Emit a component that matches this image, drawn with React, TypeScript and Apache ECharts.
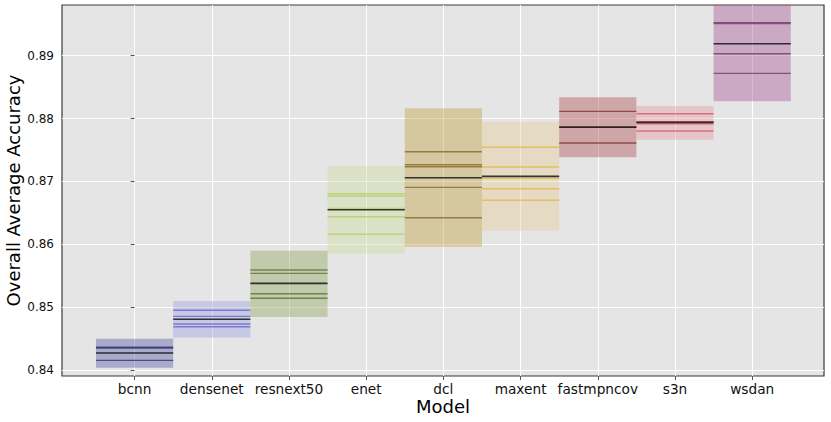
import React, { useEffect, useRef } from 'react';
import * as echarts from 'echarts';

const models = ['bcnn', 'densenet', 'resnext50', 'enet', 'dcl', 'maxent', 'fastmpncov', 's3n', 'wsdan'];
const lineColors = ['#393b79', '#6b6ecf', '#637939', '#b5cf6b', '#8c6d31', '#e7ba52', '#843c39', '#d6616b', '#7b4173'];
const fillColors = ['#5254a3', '#9c9ede', '#8ca252', '#cedb9c', '#bd9e39', '#e7cb94', '#ad494a', '#e7969c', '#a55194'];
const boxLow = [0.84037, 0.84514, 0.84843, 0.8585, 0.85962, 0.86216, 0.87384, 0.87664, 0.88275];
const boxHigh = [0.84498, 0.85098, 0.85898, 0.87245, 0.88163, 0.8795, 0.88338, 0.882, 0.90107];
const means = [0.8427, 0.84807, 0.85379, 0.8655, 0.87059, 0.87081, 0.87863, 0.8794, 0.89191];
const runs = [
  [0.84362, 0.8435, 0.84154],
  [0.8495, 0.84854, 0.84732, 0.84689],
  [0.85591, 0.85538, 0.85214, 0.85141],
  [0.86805, 0.86768, 0.86572, 0.86439, 0.86159],
  [0.87473, 0.87266, 0.87234, 0.86906, 0.86423],
  [0.87543, 0.87229, 0.87049, 0.86884, 0.867],
  [0.88115, 0.87866, 0.87611],
  [0.88078, 0.8795, 0.87918, 0.87802],
  [0.89527, 0.89513, 0.89032, 0.8872],
];
const yTicks = [0.84, 0.85, 0.86, 0.87, 0.88, 0.89];
const xTicks = [0, 1, 2, 3, 4, 5, 6, 7, 8];

export default function App() {
  const ref = useRef<HTMLDivElement>(null);
  useEffect(() => {
    if (!ref.current) return;
    const chart = echarts.init(ref.current, null, { renderer: 'svg' });
    const boxData = models.map((_, i) => [i, boxLow[i], boxHigh[i]]);
    const runData: number[][] = [];
    runs.forEach((arr, i) => arr.forEach((v) => runData.push([i, v])));
    const meanData = means.map((v, i) => [i, v]);

    const lineRender = (stroke: (i: number) => string, width: number, opacity: number) =>
      (params: any, api: any) => {
        const i = api.value(0);
        const v = api.value(1);
        const p1 = api.coord([i - 0.5, v]);
        const p2 = api.coord([i + 0.5, v]);
        return {
          type: 'line',
          shape: { x1: p1[0], y1: p1[1], x2: p2[0], y2: p2[1] },
          style: { stroke: stroke(i), lineWidth: width, opacity },
          silent: true,
        };
      };

    chart.setOption({
      animation: false,
      textStyle: { fontFamily: 'DejaVu Sans' },
      grid: {
        left: 62, right: 7, top: 5, bottom: 46,
        containLabel: false, outerBoundsMode: 'none',
        show: true, backgroundColor: '#e5e5e5', borderColor: '#3a3a3a', borderWidth: 1.2,
      },
      xAxis: {
        type: 'value', min: -0.94, max: 8.93,
        axisLine: { show: false },
        axisTick: { show: true, customValues: xTicks, length: 4, lineStyle: { color: '#555' } },
        axisLabel: {
          customValues: xTicks, formatter: (v: number) => models[Math.round(v)] ?? '',
          fontSize: 13.7, color: '#111', margin: 6, fontFamily: 'DejaVu Sans',
        },
        splitLine: { show: true, lineStyle: { color: '#ffffff', width: 1 } },
        name: 'Model', nameLocation: 'middle', nameGap: 21, nameMoveOverlap: false,
        nameTextStyle: { fontSize: 18, color: '#000', fontFamily: 'DejaVu Sans' },
      },
      yAxis: {
        type: 'value', min: 0.83905, max: 0.89807,
        axisLine: { show: false },
        axisTick: { show: true, customValues: yTicks, length: 4, lineStyle: { color: '#555' } },
        axisLabel: {
          customValues: yTicks, formatter: (v: number) => v.toFixed(2),
          fontSize: 12, color: '#111', margin: 8, fontFamily: 'DejaVu Sans',
        },
        splitLine: { show: true, lineStyle: { color: '#ffffff', width: 1 } },
        name: 'Overall Average Accuracy', nameLocation: 'middle', nameGap: 40, nameMoveOverlap: false,
        nameTextStyle: { fontSize: 18, color: '#000', fontFamily: 'DejaVu Sans' },
      },
      series: [
        {
          type: 'custom',
          data: boxData,
          encode: { x: 0, y: [1, 2] },
          renderItem: (params: any, api: any) => {
            const i = api.value(0);
            const lo = api.value(1);
            const hi = api.value(2);
            const p1 = api.coord([i - 0.5, hi]);
            const p2 = api.coord([i + 0.5, lo]);
            const rect = echarts.graphic.clipRectByRect(
              { x: p1[0], y: p1[1], width: p2[0] - p1[0], height: p2[1] - p1[1] },
              params.coordSys
            );
            if (!rect) return;
            return { type: 'rect', shape: rect, style: { fill: fillColors[i], opacity: 0.4 }, silent: true };
          },
        },
        {
          type: 'custom', data: runData, encode: { x: 0, y: 1 },
          renderItem: lineRender((i) => lineColors[i], 1.4, 0.85),
        },
        {
          type: 'custom', data: meanData, encode: { x: 0, y: 1 },
          renderItem: lineRender(() => '#151515', 1.6, 0.85),
        },
      ],
    });
    return () => chart.dispose();
  }, []);
  return <div ref={ref} style={{ position: 'absolute', left: 0, top: 0, width: 831, height: 422 }} />;
}
